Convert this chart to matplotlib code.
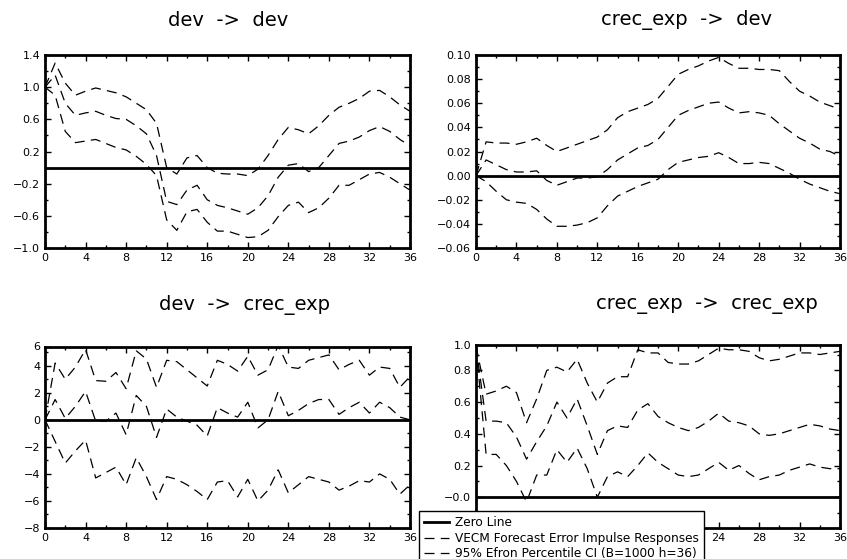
import numpy as np
import matplotlib
matplotlib.use('Agg')
import matplotlib.pyplot as plt
from matplotlib.lines import Line2D

plt.rcParams['font.family'] = ['DejaVu Sans']

horizon = list(range(37))

# dev -> dev
dev_dev_up = [1.00, 1.30, 1.05, 0.90, 0.95, 0.99, 0.96, 0.93, 0.88, 0.80, 0.72, 0.55, 0.00,
              -0.08, 0.12, 0.15, 0.00, -0.07, -0.08, -0.08, -0.10, -0.02, 0.15, 0.35, 0.50,
              0.47, 0.42, 0.52, 0.65, 0.75, 0.80, 0.86, 0.95, 0.96, 0.88, 0.78, 0.70]
dev_dev_irf = [1.00, 1.15, 0.80, 0.65, 0.68, 0.70, 0.65, 0.61, 0.60, 0.52, 0.42, 0.15, -0.42,
               -0.46, -0.28, -0.22, -0.40, -0.47, -0.50, -0.54, -0.58, -0.50, -0.35, -0.12, 0.03,
               0.05, -0.05, 0.00, 0.15, 0.30, 0.33, 0.38, 0.46, 0.51, 0.45, 0.35, 0.27]
dev_dev_lo = [1.00, 0.90, 0.45, 0.31, 0.33, 0.35, 0.30, 0.25, 0.22, 0.14, 0.04, -0.10, -0.65,
              -0.78, -0.55, -0.52, -0.68, -0.79, -0.79, -0.83, -0.87, -0.86, -0.78, -0.61, -0.47,
              -0.43, -0.56, -0.50, -0.38, -0.22, -0.22, -0.15, -0.08, -0.06, -0.12, -0.20, -0.28]

# crec_exp -> dev
crec_dev_up = [0.000, 0.028, 0.027, 0.027, 0.026, 0.028, 0.031, 0.025, 0.020, 0.023, 0.026, 0.029,
               0.032, 0.038, 0.048, 0.053, 0.056, 0.059, 0.064, 0.074, 0.084, 0.088, 0.091, 0.095,
               0.098, 0.093, 0.089, 0.089, 0.088, 0.088, 0.087, 0.078, 0.070, 0.066, 0.061, 0.058, 0.055]
crec_dev_irf = [0.000, 0.013, 0.009, 0.005, 0.003, 0.003, 0.004, -0.004, -0.008, -0.005, -0.002,
                -0.002, -0.001, 0.005, 0.013, 0.018, 0.023, 0.025, 0.030, 0.040, 0.050, 0.054, 0.057,
                0.060, 0.061, 0.056, 0.052, 0.053, 0.052, 0.050, 0.043, 0.037, 0.031, 0.027, 0.022,
                0.020, 0.016]
crec_dev_lo = [0.000, -0.005, -0.013, -0.020, -0.022, -0.023, -0.028, -0.036, -0.042, -0.042, -0.041,
               -0.039, -0.035, -0.025, -0.017, -0.013, -0.009, -0.006, -0.003, 0.005, 0.011, 0.013,
               0.015, 0.016, 0.019, 0.015, 0.010, 0.010, 0.011, 0.010, 0.006, 0.002, -0.003, -0.007,
               -0.010, -0.013, -0.015]

# dev -> crec_exp
dev_crec_up = [0.0, 4.2, 3.0, 3.9, 5.2, 2.9, 2.85, 3.5, 2.3, 5.1, 4.5, 2.4, 4.4, 4.3, 3.7, 3.1, 2.5,
               4.4, 4.1, 3.6, 4.7, 3.3, 3.7, 5.5, 3.9, 3.8, 4.4, 4.6, 4.8, 3.7, 4.1, 4.4, 3.3, 3.9,
               3.8, 2.4, 3.2]
dev_crec_irf = [0.0, 1.5, 0.1, 1.0, 2.1, -0.1, -0.1, 0.5, -1.1, 1.8, 1.0, -1.3, 0.8, 0.2, -0.1, -0.4,
                -1.2, 0.9, 0.5, 0.2, 1.3, -0.6, 0.0, 2.1, 0.3, 0.7, 1.2, 1.5, 1.5, 0.4, 0.9, 1.3, 0.5,
                1.3, 0.9, 0.2, 0.0]
dev_crec_lo = [0.0, -1.6, -3.2, -2.3, -1.5, -4.3, -3.9, -3.5, -4.8, -2.8, -4.2, -5.9, -4.2, -4.4,
               -4.8, -5.3, -5.9, -4.6, -4.5, -5.7, -4.4, -6.0, -5.2, -3.7, -5.4, -4.8, -4.2, -4.4,
               -4.6, -5.2, -4.9, -4.5, -4.6, -4.0, -4.4, -5.5, -4.8]

# crec_exp -> crec_exp
crec_crec_up = [0.95, 0.65, 0.67, 0.70, 0.66, 0.47, 0.62, 0.80, 0.82, 0.79, 0.87, 0.72, 0.60, 0.72,
                0.76, 0.76, 0.93, 0.91, 0.91, 0.85, 0.84, 0.84, 0.86, 0.90, 0.94, 0.93, 0.93, 0.92,
                0.88, 0.86, 0.87, 0.89, 0.91, 0.91, 0.90, 0.91, 0.92]
crec_crec_irf = [0.95, 0.48, 0.48, 0.47, 0.38, 0.24, 0.35, 0.45, 0.60, 0.50, 0.62, 0.45, 0.27, 0.42,
                 0.45, 0.44, 0.55, 0.59, 0.51, 0.47, 0.44, 0.42, 0.44, 0.48, 0.53, 0.48, 0.47, 0.45,
                 0.40, 0.39, 0.40, 0.42, 0.44, 0.46, 0.45, 0.43, 0.42]
crec_crec_lo = [0.95, 0.27, 0.27, 0.20, 0.10, -0.03, 0.14, 0.14, 0.30, 0.22, 0.31, 0.18, 0.00, 0.13,
                0.16, 0.13, 0.20, 0.28, 0.22, 0.18, 0.14, 0.13, 0.14, 0.18, 0.22, 0.17, 0.20, 0.15,
                0.11, 0.13, 0.14, 0.17, 0.19, 0.21, 0.19, 0.18, 0.18]

titles = ['dev  ->  dev', 'crec_exp  ->  dev', 'dev  ->  crec_exp', 'crec_exp  ->  crec_exp']

W, H = 847, 559
fig = plt.figure(figsize=(W / 100, H / 100), dpi=100)


def px_axes(l, t, r, b):
    return fig.add_axes([l / W, 1 - b / H, (r - l) / W, (b - t) / H])


dash = (0, (8, 5))


def panel(ax, up, irf, lo, ylim, major, minor, labels):
    ax.axhline(0, color='black', lw=2.0)
    ax.plot(horizon, up, color='black', lw=0.9, ls=dash)
    ax.plot(horizon, irf, color='black', lw=0.9, ls=dash)
    ax.plot(horizon, lo, color='black', lw=0.9, ls=dash)
    ax.set_xlim(0, 36)
    ax.set_ylim(*ylim)
    ax.set_xticks(range(0, 37, 4))
    ax.set_xticks(range(0, 37, 2), minor=True)
    ax.set_yticks(major)
    ax.set_yticklabels(labels)
    ax.set_yticks(minor, minor=True)
    ax.tick_params(which='both', direction='in', top=True, right=True, labelsize=8, width=1)
    ax.tick_params(which='major', length=4)
    ax.tick_params(which='minor', length=2.5)
    for s in ax.spines.values():
        s.set_linewidth(2)


ax1 = px_axes(45, 55, 410, 248)
panel(ax1, dev_dev_up, dev_dev_irf, dev_dev_lo, (-1.0, 1.4),
      [-1.0, -0.6, -0.2, 0.2, 0.6, 1.0, 1.4], np.arange(-1.0, 1.41, 0.2),
      ['−1.0', '−0.6', '−0.2', '0.2', '0.6', '1.0', '1.4'])

ax2 = px_axes(476, 55, 840, 248)
panel(ax2, crec_dev_up, crec_dev_irf, crec_dev_lo, (-0.06, 0.10),
      np.arange(-0.06, 0.101, 0.02), np.arange(-0.06, 0.101, 0.01),
      ['−0.06', '−0.04', '−0.02', '0.00', '0.02', '0.04', '0.06', '0.08', '0.10'])

ax3 = px_axes(45, 346.5, 410, 528)
panel(ax3, dev_crec_up, dev_crec_irf, dev_crec_lo, (-8, 5.42),
      [-8, -6, -4, -2, 0, 2, 4, 5.42], np.arange(-8, 5.5, 1),
      ['−8', '−6', '−4', '−2', '0', '2', '4', '6'])

ax4 = px_axes(476, 345, 840, 528)
panel(ax4, crec_crec_up, crec_crec_irf, crec_crec_lo, (-0.194, 0.952),
      [0.0, 0.2, 0.4, 0.6, 0.8, 0.96], np.arange(-0.1, 0.96, 0.1),
      ['−0.0', '0.2', '0.4', '0.6', '0.8', '1.0'])
# the legend box hides the first x labels of this panel
ax4.set_xticklabels(['' if v <= 20 else str(v) for v in range(0, 37, 4)])

title_pos = [(228, 20), (686, 20), (244, 305), (707, 305)]
for (x, y), t in zip(title_pos, titles):
    fig.text(x / W, 1 - y / H, t, fontsize=14, ha='center', va='center')

handles = [Line2D([], [], color='black', lw=2.0),
           Line2D([], [], color='black', lw=0.9, ls=dash),
           Line2D([], [], color='black', lw=0.9, ls=dash)]
labels = ['Zero Line', 'VECM Forecast Error Impulse Responses',
          '95% Efron Percentile CI (B=1000 h=36)']
leg = fig.legend(handles, labels, loc='upper left', bbox_to_anchor=(419 / W, 1 - 511 / H),
                 fontsize=8.7, frameon=True, fancybox=False, edgecolor='black',
                 borderpad=0.45, labelspacing=0.2, handlelength=2.0, handletextpad=0.5,
                 borderaxespad=0)
leg.get_frame().set_linewidth(1.0)
leg.get_frame().set_alpha(1)

fig.savefig('out.png', dpi=100)
